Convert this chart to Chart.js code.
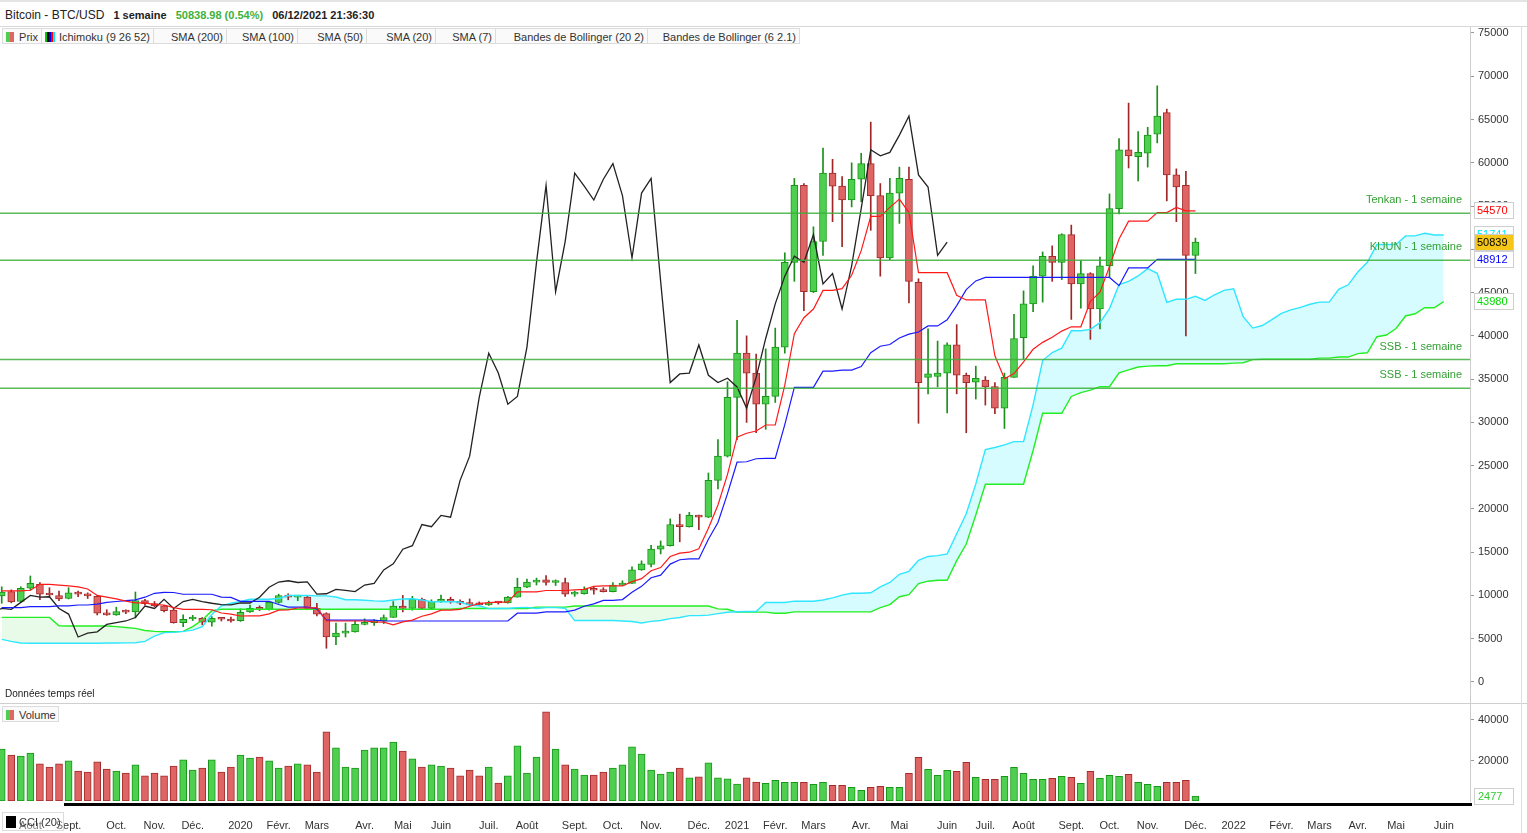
<!DOCTYPE html>
<html>
<head>
<meta charset="utf-8">
<script src="https://cdn.jsdelivr.net/npm/chart.js@4.4.0/dist/chart.umd.min.js"></script>
<style>
  body { margin: 0; width: 1527px; height: 833px; overflow: hidden; background: #fff; position: relative;
         font-family: "Liberation Sans", Arial, sans-serif; color: #333; }
  .abs { position: absolute; }
  #topline { left: 0; top: 0; width: 1527px; height: 2px; background: #e4e4e4; }
  #header { left: 0; top: 2px; width: 1527px; height: 24px; border-bottom: 1px solid #d8d8d8; font-size: 11px; line-height: 27px; color: #222; }
  #header .name { margin-left: 5px; font-size: 12px; }
  #header b { font-weight: bold; margin-left: 6px; }
  #legend { left: 2px; top: 28px; height: 17px; display: flex; font-size: 11px; }
  #legend div { height: 16px; line-height: 16px; border: 1px solid #dcdcdc; border-left: none; background: #fafafa;
                text-align: right; padding-right: 3px; box-sizing: border-box; position: relative; }
  #legend div:first-child { border-left: 1px solid #dcdcdc; }
  .ico { position: absolute; left: 3px; top: 3px; width: 8px; height: 10px; }
  canvas { position: absolute; left: 0; }
  #sep { left: 0; top: 703px; width: 1527px; height: 1px; background: #cfcfcf; }
  #rightedge { left: 1521px; top: 27px; width: 1px; height: 806px; background: #dedede; }
  #realtime { left: 5px; top: 688px; font-size: 10px; color: #222; }
  #volbox { left: 2px; top: 706px; width: 57px; height: 16px; border: 1px solid #dcdcdc; background: #fafafa;
            font-size: 11px; line-height: 16px; box-sizing: border-box; }
  #blackbar { left: 64px; top: 803px; width: 1408px; height: 3px; background: #000; }
  #ccibox { left: 2px; top: 812px; width: 62px; height: 19px; border: 1px solid #dcdcdc; box-sizing: border-box;
            font-size: 11px; line-height: 18px; background: rgba(255,255,255,0.35); }
</style>
</head>
<body>
<div id="topline" class="abs"></div>
<div id="header" class="abs"><span class="name">Bitcoin - BTC/USD</span> <b>1 semaine</b> <b style="color:#3db23d">50838.98 (0.54%)</b> <b>06/12/2021 21:36:30</b></div>

<canvas id="priceChart" width="1527" height="676" style="top:27px"></canvas>
<canvas id="volumeChart" width="1527" height="130" style="top:703px"></canvas>

<div id="legend" class="abs">
  <div style="width:40px"><span class="ico" style="background:linear-gradient(90deg,#4fcf4f 50%,#e06666 50%)"></span>Prix</div>
  <div style="width:112px"><span class="ico" style="width:10px;background:linear-gradient(90deg,#00cc00 20%,#000 20%,#000 40%,#0000ff 40%,#0000ff 60%,#ff0000 60%,#ff0000 80%,#00e5ff 80%)"></span>Ichimoku (9 26 52)</div>
  <div style="width:73px">SMA (200)</div>
  <div style="width:71px">SMA (100)</div>
  <div style="width:69px">SMA (50)</div>
  <div style="width:69px">SMA (20)</div>
  <div style="width:60px">SMA (7)</div>
  <div style="width:152px">Bandes de Bollinger (20 2)</div>
  <div style="width:152px">Bandes de Bollinger (6 2.1)</div>
</div>
<div id="realtime" class="abs">Données temps réel</div>
<div id="sep" class="abs"></div>
<div id="rightedge" class="abs"></div>
<div id="volbox" class="abs"><span class="ico" style="background:linear-gradient(90deg,#4fcf4f 50%,#e06666 50%)"></span><span style="margin-left:16px">Volume</span></div>
<div id="blackbar" class="abs"></div>
<div id="ccibox" class="abs"><span class="ico" style="background:#000;width:10px;height:12px;top:3px"></span><span style="margin-left:16px">CCI (20)</span></div>

<script>
// Bougies hebdomadaires BTC/USD, semaine 0 = 15/07/2019, dernière = 06/12/2021
const opens = [9950,10450,9300,10830,11300,10250,10000,9650,10300,10150,
  9900,7950,7750,8150,8100,9400,9050,8800,8300,6850,
  7280,7350,6900,7350,7250,7100,8100,8550,8400,9200,
  10000,9800,9800,8500,7900,5200,5650,5800,6650,6850,
  7050,7450,8780,8500,9550,8500,9300,9550,9300,9100,
  9050,8920,9150,9130,9800,10950,11550,11800,11500,11500,
  10150,10200,10700,10600,10450,11200,11400,12950,13600,15350,
  15750,18200,17950,19250,19050,23300,26100,32900,38000,35700,
  32100,33000,38700,48500,57400,45100,50900,58800,57300,55700,
  58100,59900,56200,49000,56500,58100,46200,35200,35300,35700,
  38950,35450,34650,34900,34150,31650,35200,39800,43700,46900,
  49200,48500,51700,46000,47200,43100,48100,54700,61500,60700,
  61100,63300,65800,58600,57400,49300];
const highs = [11000,10650,11000,12250,11500,10900,10500,10900,10500,10300,
  10000,8350,8650,8350,10400,9550,9300,8850,8450,7750,
  7700,7450,7550,7450,7500,8450,8900,8800,9300,10150,
  10200,10000,9950,9100,8000,6800,6800,7000,7300,7200,
  7750,9300,10000,9900,9700,9500,10050,9800,9500,9600,
  9250,9350,9300,9900,12000,11900,12000,12300,11800,12000,
  10500,11000,10950,10900,11500,11700,13300,14000,15800,16300,
  18850,19400,19600,19300,24150,28000,34700,41800,40000,37900,
  38500,40900,49600,58200,57600,52600,61700,60400,58400,60000,
  61100,64700,57600,58200,59500,59500,46600,40800,39400,39200,
  41300,35700,36500,35300,34600,35700,42500,45200,48100,49700,
  50400,51800,52800,48700,47300,49100,56400,62800,66900,63600,
  64100,68900,66200,59300,59000,51300];
const lows = [9100,9150,9200,10600,9500,9800,9400,9600,9850,9650,
  7750,7700,7700,7900,7400,8900,8700,8100,6800,6400,
  7100,6600,6450,7050,6900,7000,8050,8250,8300,9100,
  9500,9400,8450,7650,3900,4300,5200,5750,6600,6550,
  6750,7450,8100,8300,8450,8400,9200,9100,8950,8850,
  8900,8850,9000,9100,9800,10900,11200,11200,11150,9900,
  9900,10150,10150,10400,10400,11200,11400,12900,13300,14800,
  15700,16200,17900,17600,19000,22300,26000,28000,30000,28800,
  29200,32300,38000,46300,42900,45000,49300,53200,50300,54900,
  55500,52200,46900,48800,53000,43800,29900,33300,34100,31100,
  33300,28800,32700,32000,31000,29300,35200,37300,42800,43900,
  46300,46500,41900,43200,39600,40800,46800,54100,59400,57900,
  59500,62300,55600,53200,40000,47200];
const closes = [10400,9250,10830,11400,10150,10050,9600,10300,10150,9950,
  7950,7750,8150,8080,9400,9050,8800,8250,6850,7250,
  7350,6900,7350,7250,7050,8050,8500,8400,9200,10000,
  9800,9850,8500,7850,5200,5650,5800,6650,6850,7050,
  7450,8780,8500,9550,8500,9300,9550,9300,9100,8950,
  8920,9150,9130,9800,10950,11550,11700,11500,11560,10150,
  10200,10700,10600,10450,11200,11400,12950,13650,15350,15750,
  18200,17950,19250,19050,23300,26100,32900,38000,35700,32100,
  33000,38700,48500,57400,45100,50900,58800,57300,55700,58100,
  59900,56200,49000,56500,58200,46300,34600,35600,35700,38950,
  35450,34600,35100,34100,31650,35200,39700,43700,46900,49200,
  48500,51700,46000,47200,43100,48100,54700,61500,60800,61200,
  63200,65400,58600,57200,49300,50839];
const volumes = [25700,22700,22200,23700,18300,16800,18300,19800,14800,14300,
  19300,15800,14800,13800,17800,12400,13800,12400,17300,20300,
  15300,16300,20300,14300,16800,22700,21200,21700,19800,16300,
  17300,18300,17800,14300,34100,26200,16800,16300,25200,26200,
  26200,29100,24700,20800,16800,17800,17300,16300,12400,15300,
  12400,16800,8900,12400,27200,13800,21700,44000,25700,17800,
  15800,12800,12800,14300,16300,17800,26700,23200,15300,13300,
  14300,16300,11400,11900,18800,11400,10900,8400,11400,9400,
  8700,10200,9200,9200,9200,8200,9200,7700,7700,6800,
  5300,6800,7300,6800,6800,13700,21600,15700,12700,15200,
  14700,19100,11700,10700,10700,12200,16600,13700,10700,10700,
  11200,12200,11700,8700,14700,11200,12700,12200,13200,9200,
  8200,7300,9200,9200,10200,2477];

// Ichimoku (9 26 52)
const tenkan = [10520,10520,10520,10600,11290,11290,11200,11100,11000,10750,
  10000,9800,9600,9350,9150,9150,8950,8900,8600,8400,
  8400,8400,8350,7975,7850,7625,7650,7650,7875,8300,
  8325,8550,8550,8600,7050,7050,7050,7050,7050,6950,
  6925,6600,6950,7150,7600,7875,8300,8300,8400,8750,
  9075,9175,9225,9225,10425,10425,10425,10575,10575,10575,
  10650,10700,11050,11100,11100,11100,11600,11950,12850,13225,
  14500,14900,15000,15400,17775,20450,24000,28300,28750,29000,
  29700,29700,34300,40250,42100,43100,45250,45250,45450,47000,
  49850,53800,53800,54850,55800,54250,47300,47300,47300,47300,
  44700,44150,44150,44150,37700,35050,35650,37000,38450,39250,
  39850,40550,41050,41050,44000,45050,48000,51200,53250,53250,
  53250,54250,54250,54850,54450,54450];
const kijun = [8600,8600,8600,8700,8700,8700,8800,8800,8900,8900,
  9000,9200,9300,9400,9500,9800,10250,10350,10340,10140,
  10140,10140,10140,9800,9770,9325,9325,9325,9325,8950,
  8650,8650,8650,8450,7150,7150,7150,7150,7150,7150,
  7050,7050,7050,7050,7050,7050,7050,7050,7050,7050,
  7050,7050,7050,7050,7950,7950,7950,8100,8100,8100,
  8300,8750,9025,9425,9425,9525,10375,11050,12050,12350,
  13625,14125,14225,14225,16500,18425,21775,25400,25450,25800,
  25850,25850,29750,34050,34050,34050,35925,35925,36050,36050,
  36450,38050,38800,39000,39750,40200,40450,41150,41150,41850,
  43500,45350,46350,46750,46750,46750,46750,46750,46750,46750,
  46750,46750,46750,46750,46750,46750,46750,45800,47850,47850,
  47850,48850,48850,48850,48850,48850];
// Nuage : positions 0..151 (déjà projeté de 26 semaines)
const senkouA = [4930,4700,4500,4470,4470,4470,4470,4470,4470,4470,
  4470,4500,4500,4520,4540,4700,5300,5700,5750,5850,
  6000,6400,7800,8800,9100,9300,
  9560,9560,9560,9650,9995,9995,10000,9950,9950,9825,
  9500,9500,9450,9375,9325,9475,9600,9625,9470,9270,
  9270,9270,9245,8890,8810,8475,8490,8490,8600,8625,
  8490,8600,8600,8525,7100,7100,7100,7100,7100,7050,
  6990,6825,7000,7100,7325,7460,7675,7675,7725,7900,
  8060,8110,8140,8140,9190,9190,9190,9340,9340,9340,
  9475,9725,10040,10260,10260,10310,10990,11500,12450,12790,
  14060,14510,14610,14810,17140,19440,22890,26850,27100,27400,
  27775,27775,32025,37150,38075,38575,40590,40590,40750,41525,
  43150,45925,46300,46925,47775,47225,43875,44225,44225,44575,
  44100,44750,45250,45450,42225,40900,41200,41875,42600,43000,
  43300,43650,43900,43900,45375,45900,47375,48500,50550,50550,
  50550,51550,51550,51850,51650,51650];
const senkouB = [7470,7470,7470,7470,7470,7470,6500,6470,6470,6470,
  6470,6470,6400,6300,6200,5950,5850,5800,5800,5850,
  6400,7170,8240,8400,8400,8400,
  8400,8400,8400,8400,8400,8400,8400,8400,8400,8400,
  8400,8400,8400,8400,8400,8400,8400,8400,8400,8400,
  8400,8400,8500,8500,8500,8500,8500,8500,8500,8500,
  8650,8650,8650,8650,8780,8780,8780,8780,8780,8780,
  8780,8780,8780,8780,8780,8780,8780,8780,8780,8450,
  8400,
  8075,8075,8075,8075,7950,7950,8100,8100,8100,8100,
  8100,8100,8100,8100,8100,8600,8950,9850,10100,11375,
  11650,11750,11750,14025,15950,19300,22850,22850,22850,22850,
  22850,26750,31050,31050,31050,33000,33450,33725,34125,34125,
  35725,36075,36400,36500,36550,36550,36775,36775,36775,36775,
  36775,36775,36850,36900,37250,37300,37300,37300,37300,37300,
  37300,37425,37425,37550,37550,37950,38050,39900,40100,40850,
  42300,42550,43250,43250,43950];

// Lignes horizontales tracées et valeurs affichées sur l'axe
const hLevels = [54170, 48730, 37270, 33940];
const hLabels = ['Tenkan - 1 semaine', 'KIJUN - 1 semaine', 'SSB - 1 semaine', 'SSB - 1 semaine'];
const lastValues = [54570, 51741, 50839, 48912, 43980];
const lastVolume = 2477;

const priceTicks = [0,5000,10000,15000,20000,25000,30000,35000,40000,45000,50000,55000,60000,65000,70000,75000];
const volumeTicks = [20000, 40000];
const monthTickIdx = [3,7,12,16,20,25,29,33,38,42,46,51,55,60,64,68,73,77,81,85,90,94,99,103,107,112,116,120,125,129,134,138,142,146,151];
const monthTickLabels = ['Août','Sept.','Oct.','Nov.','Déc.','2020','Févr.','Mars','Avr.','Mai','Juin','Juil.','Août','Sept.','Oct.','Nov.','Déc.','2021','Févr.','Mars','Avr.','Mai','Juin','Juil.','Août','Sept.','Oct.','Nov.','Déc.','2022','Févr.','Mars','Avr.','Mai','Juin'];

const X_MIN = -0.18, X_MAX = 153.75;
const FONT = '"Liberation Sans", Arial, sans-serif';

Chart.defaults.font.family = FONT;
Chart.defaults.font.size = 11;
Chart.defaults.color = '#333';
Chart.defaults.animation = false;

const up = i => closes[i] >= opens[i];
const pts = arr => arr.map((v, i) => ({ x: i, y: v }));

function rightAxis(scale) {
  scale.width = 57;
  scale.paddingTop = 0;
  scale.paddingBottom = 0;
}

// étiquettes des lignes et cadres de valeurs sur l'axe
const annotations = {
  id: 'annotations',
  afterDatasetsDraw(chart) {
    const { ctx, chartArea, scales } = chart;
    ctx.save();
    ctx.font = '11px ' + FONT;
    ctx.fillStyle = '#34a034';
    ctx.textAlign = 'right';
    ctx.textBaseline = 'middle';
    hLevels.forEach((v, k) => {
      ctx.fillText(hLabels[k], chartArea.right - 8, scales.y.getPixelForValue(v) - 13);
    });
    ctx.restore();
  },
  afterDraw(chart) {
    const { ctx, chartArea, scales } = chart;
    const fg = ['#ff0000', '#00e5ff', '#000000', '#0000ff', '#00dd00'];
    const bg = ['#ffffff', '#ffffff', '#f5c518', '#ffffff', '#ffffff'];
    ctx.save();
    ctx.font = '11px ' + FONT;
    ctx.textBaseline = 'middle';
    lastValues.forEach((v, k) => {
      const y = Math.round(scales.y.getPixelForValue(v));
      const x = chartArea.right + 4;
      ctx.fillStyle = bg[k];
      ctx.fillRect(x, y - 8, 39, 16);
      ctx.strokeStyle = '#cfcfcf';
      ctx.strokeRect(x + 0.5, y - 7.5, 39, 16);
      ctx.fillStyle = fg[k];
      ctx.fillText(String(v), x + 3, y + 1);
    });
    ctx.restore();
  }
};

const hLineSets = hLevels.map(v => ({
  type: 'line',
  data: [{ x: X_MIN - 1, y: v }, { x: X_MAX + 1, y: v }],
  borderColor: 'rgba(60,175,60,0.85)',
  borderWidth: 1.5,
  pointRadius: 0,
  order: 0
}));

const priceChart = new Chart(document.getElementById('priceChart'), {
  type: 'bar',
  data: {
    datasets: [
      ...hLineSets,
      { type: 'line', data: pts(tenkan), borderColor: '#ff1a1a', borderWidth: 1.2, pointRadius: 0, order: 1 },
      { type: 'line', data: pts(kijun), borderColor: '#1a1aff', borderWidth: 1.2, pointRadius: 0, order: 1 },
      // lagging span : clôtures décalées de 26 semaines
      { type: 'line', data: closes.map((c, i) => ({ x: i - 26, y: c })), borderColor: '#222', borderWidth: 1.3, pointRadius: 0, order: 1 },
      { type: 'line', data: pts(senkouA), borderColor: '#2ee6ff', borderWidth: 1.4, pointRadius: 0, order: 2,
        fill: { target: hLineSets.length + 4, above: 'rgba(0,235,255,0.16)', below: 'rgba(0,210,0,0.09)' } },
      { type: 'line', data: pts(senkouB), borderColor: '#22ee22', borderWidth: 1.4, pointRadius: 0, order: 2 },
      {
        data: opens.map((o, i) => ({ x: i, y: [o, closes[i]] })),
        grouped: false, barThickness: 7, minBarLength: 2, borderWidth: 1, borderSkipped: false,
        backgroundColor: c => up(c.dataIndex) ? '#4fcf4f' : '#df6464',
        borderColor: c => up(c.dataIndex) ? '#179617' : '#a32b2b',
        order: 5
      },
      {
        data: lows.map((l, i) => ({ x: i, y: [l, highs[i]] })),
        grouped: false, barThickness: 1, borderWidth: 0,
        backgroundColor: c => up(c.dataIndex) ? '#1c8f1c' : '#9e2626',
        order: 6
      }
    ]
  },
  options: {
    responsive: false,
    layout: { padding: 0 },
    plugins: { legend: { display: false }, tooltip: { enabled: false }, filler: { drawTime: 'beforeDatasetsDraw' } },
    scales: {
      x: { type: 'linear', display: false, min: X_MIN, max: X_MAX, offset: false },
      y: {
        position: 'right', min: -2427, max: 75693,
        afterBuildTicks: s => { s.ticks = priceTicks.map(v => ({ value: v })); },
        afterFit: rightAxis,
        ticks: { padding: 4, color: '#333', callback: v => String(v) },
        grid: { drawOnChartArea: false, tickLength: 4, color: '#999' },
        border: { color: '#cccccc' }
      }
    }
  },
  plugins: [annotations]
});

const volumeBox = {
  id: 'volumeBox',
  afterDraw(chart) {
    const { ctx, chartArea, scales } = chart;
    const y = Math.round(scales.y.getPixelForValue(lastVolume));
    const x = chartArea.right + 4;
    ctx.save();
    ctx.fillStyle = '#fff';
    ctx.fillRect(x, y - 8, 39, 16);
    ctx.strokeStyle = '#cfcfcf';
    ctx.strokeRect(x + 0.5, y - 7.5, 39, 16);
    ctx.font = '11px ' + FONT;
    ctx.textBaseline = 'middle';
    ctx.fillStyle = '#33cc33';
    ctx.fillText(String(lastVolume), x + 4, y + 1);
    ctx.restore();
  }
};

const volumeChart = new Chart(document.getElementById('volumeChart'), {
  type: 'bar',
  data: {
    datasets: [{
      data: volumes.map((v, i) => ({ x: i, y: v })),
      barThickness: 7, borderWidth: 1, borderSkipped: false,
      backgroundColor: c => up(c.dataIndex) ? '#4fcf4f' : '#df6464',
      borderColor: c => up(c.dataIndex) ? '#179617' : '#a32b2b'
    }]
  },
  options: {
    responsive: false,
    layout: { padding: 0 },
    plugins: { legend: { display: false }, tooltip: { enabled: false } },
    scales: {
      x: {
        type: 'linear', min: X_MIN, max: X_MAX, offset: false,
        afterBuildTicks: s => { s.ticks = monthTickIdx.map(v => ({ value: v })); },
        afterFit: s => { s.height = 32; s.paddingLeft = 0; s.paddingRight = 0; },
        ticks: { autoSkip: false, maxRotation: 0, padding: 10, color: '#333', callback: (v, i) => monthTickLabels[i] },
        grid: { display: false },
        border: { display: false }
      },
      y: {
        position: 'right', min: 0, max: 48395,
        afterBuildTicks: s => { s.ticks = volumeTicks.map(v => ({ value: v })); },
        afterFit: rightAxis,
        ticks: { padding: 4, color: '#333', callback: v => String(v) },
        grid: { drawOnChartArea: false, tickLength: 4, color: '#999' },
        border: { color: '#cccccc' }
      }
    }
  },
  plugins: [volumeBox]
});
</script>
</body>
</html>
